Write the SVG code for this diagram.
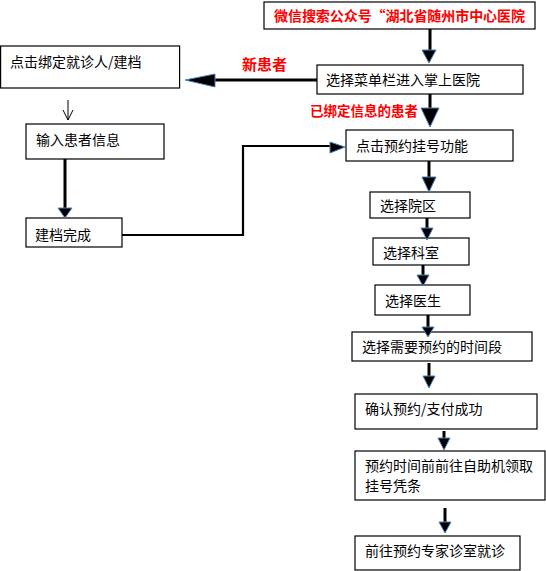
<svg xmlns="http://www.w3.org/2000/svg" width="546" height="571" viewBox="0 0 546 571">
<style>
.box{fill:#fff;stroke:#000;stroke-width:1.2}
.t{font-family:"Noto Sans CJK SC","Liberation Sans",sans-serif;font-size:14px;fill:#000}
.r{font-family:"Noto Sans CJK SC","Liberation Sans",sans-serif;font-weight:bold;fill:#ff0000}
.ln{fill:none;stroke:#000;stroke-width:3}
.ln2{fill:none;stroke:#000;stroke-width:2.2}
.ah{fill:#000;stroke:#4f81bd;stroke-width:1;stroke-linejoin:round}
</style>
<rect width="546" height="571" fill="#fff"/>
<g id="n-wechat">
<rect class="box" x="264" y="2" width="271" height="27"/>
<text class="r" x="274" y="21" font-size="14" textLength="251">微信搜索公众号“湖北省随州市中心医院</text>
</g>
<g id="n-menu">
<rect class="box" x="317" y="65" width="206" height="29"/>
<text class="t" x="326" y="85">选择菜单栏进入掌上医院</text>
</g>
<g id="l-new">
<text class="r" x="242" y="70" font-size="15">新患者</text>
</g>
<g id="l-bound">
<text class="r" x="310" y="116" font-size="13.5">已绑定信息的患者</text>
</g>
<g id="n-bind">
<rect class="box" x="0.6" y="46" width="179" height="42"/>
<text class="t" x="10" y="67">点击绑定就诊人/建档</text>
</g>
<g id="n-input">
<rect class="box" x="26" y="124" width="138" height="35"/>
<text class="t" x="36" y="145">输入患者信息</text>
</g>
<g id="n-done">
<rect class="box" x="26" y="218" width="96" height="29"/>
<text class="t" x="35" y="240">建档完成</text>
</g>
<g id="n-reg">
<rect class="box" x="346" y="130" width="167" height="31"/>
<text class="t" x="356" y="151">点击预约挂号功能</text>
</g>
<g id="n-campus">
<rect class="box" x="370" y="192" width="100" height="26"/>
<text class="t" x="380" y="211">选择院区</text>
</g>
<g id="n-dept">
<rect class="box" x="373" y="238" width="96" height="27"/>
<text class="t" x="383" y="258">选择科室</text>
</g>
<g id="n-doctor">
<rect class="box" x="375" y="285" width="95" height="30"/>
<text class="t" x="385" y="306">选择医生</text>
</g>
<g id="n-time">
<rect class="box" x="352" y="332" width="180" height="29"/>
<text class="t" x="362" y="352">选择需要预约的时间段</text>
</g>
<g id="n-pay">
<rect class="box" x="355" y="394" width="182" height="35"/>
<text class="t" x="365" y="414">确认预约/支付成功</text>
</g>
<g id="n-ticket">
<rect class="box" x="355" y="451" width="190" height="49"/>
<text class="t" x="365" y="471">预约时间前前往自助机领取</text>
<text class="t" x="365" y="491">挂号凭条</text>
</g>
<g id="n-visit">
<rect class="box" x="355" y="536" width="165" height="34"/>
<text class="t" x="365" y="556">前往预约专家诊室就诊</text>
</g>
<g id="connectors">
<line class="ln" x1="430" y1="29" x2="430" y2="52"/>
<polygon class="ah" points="422,50 436,50 429,63"/>
<line class="ln" x1="317" y1="80" x2="214" y2="80"/>
<polygon class="ah" points="215,74 215,87 185,80"/>
<line class="ln" x1="430" y1="94" x2="430" y2="110"/>
<polygon class="ah" points="421,108 439,108 430,127"/>
<line x1="68" y1="100" x2="68" y2="120" stroke="#000" stroke-width="1"/>
<polyline points="63,110 68,120 73,110" fill="none" stroke="#000" stroke-width="1"/>
<line class="ln" x1="65" y1="159" x2="65" y2="210"/>
<polygon class="ah" points="58,208 72,208 65,218"/>
<polyline class="ln2" points="122,235 243,235 243,146 332,146"/>
<polygon class="ah" points="330,142 330,153 345,147"/>
<line class="ln" x1="429" y1="161" x2="429" y2="179"/>
<polygon class="ah" points="422,177 436,177 429,192"/>
<line class="ln" x1="427" y1="218" x2="427" y2="230"/>
<polygon class="ah" points="421,228 433,228 427,240"/>
<line class="ln" x1="423" y1="265" x2="423" y2="277"/>
<polygon class="ah" points="417,275 429,275 423,286"/>
<line class="ln" x1="428" y1="315" x2="428" y2="329"/>
<polygon class="ah" points="422,327 434,327 428,337"/>
<line class="ln" x1="429" y1="363" x2="429" y2="378"/>
<polygon class="ah" points="423,376 435,376 429,388"/>
<line class="ln" x1="444" y1="431" x2="444" y2="440"/>
<polygon class="ah" points="438,438 450,438 444,450"/>
<line class="ln" x1="445" y1="508" x2="445" y2="524"/>
<polygon class="ah" points="439,522 451,522 445,533"/>
</g>
</svg>
